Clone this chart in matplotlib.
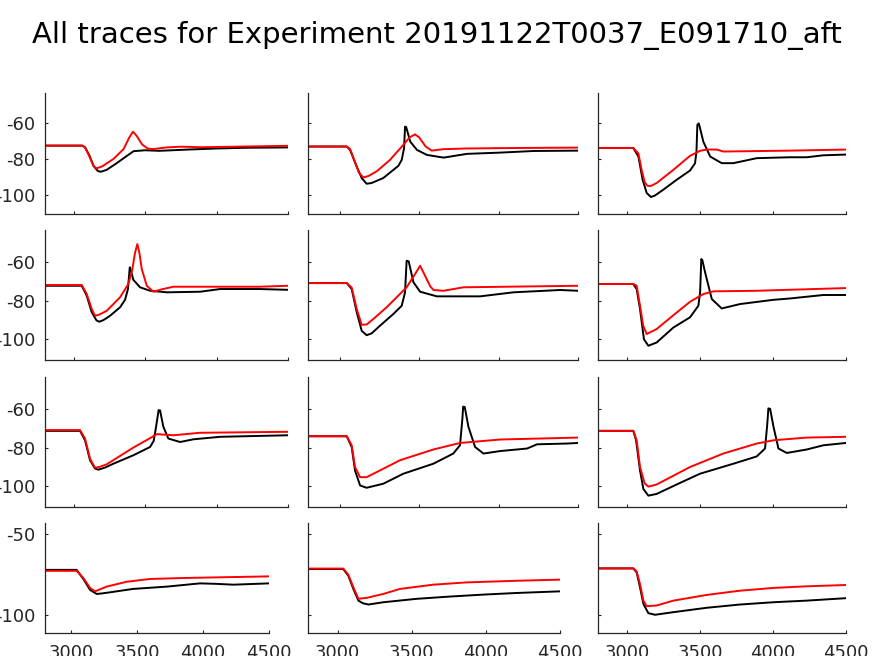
import matplotlib
matplotlib.use("Agg")
import matplotlib.pyplot as plt

plt.rcParams['font.family'] = ['DejaVu Sans']
plt.rcParams['axes.unicode_minus'] = False

title = "All traces for Experiment 20191122T0037_E091710_aft"

p11_black = [(2800, -72.6), (3060, -72.6), (3080, -73.5), (3110, -78), (3140, -84), (3170, -86.8), (3190, -87.2),
             (3230, -86.2), (3300, -82.5), (3370, -78.5), (3420, -75.7), (3500, -75.2), (3600, -75.5), (3800, -74.8),
             (4000, -74.2), (4200, -73.8), (4500, -73.6)]
p11_red = [(2800, -72.6), (3060, -72.6), (3080, -73.5), (3110, -78.5), (3140, -84), (3160, -85.3), (3200, -84.2),
           (3280, -80), (3350, -74.5), (3390, -68), (3415, -64.8), (3440, -67), (3480, -72), (3520, -74.3),
           (3560, -74.5), (3650, -73.6), (3750, -73.2), (3900, -73.5), (4500, -72.7)]

p12_black = [(2800, -73.1), (3044, -73.1), (3065, -75), (3107, -84.3), (3138, -90.7), (3169, -93.9), (3200, -93.5),
             (3274, -90.7), (3369, -83.9), (3390, -80.6), (3405, -74), (3411, -62), (3418, -62.2), (3444, -70.4),
             (3486, -75), (3549, -77.8), (3654, -79.3), (3801, -77.2), (4011, -76.5), (4221, -75.6), (4500, -75.4)]
p12_red = [(2800, -73.1), (3044, -73.1), (3065, -74.5), (3090, -80.6), (3121, -87.8), (3148, -90.4), (3180, -89.6),
           (3232, -87), (3316, -80.6), (3400, -72.2), (3440, -68), (3474, -66.3), (3500, -68), (3540, -73),
           (3579, -75.4), (3650, -74.6), (3800, -74.2), (4000, -74), (4500, -73.7)]

p13_black = [(2800, -73.9), (3042, -73.9), (3077, -78.7), (3106, -91.7), (3134, -99.1), (3163, -101.3),
             (3190, -100.5), (3248, -97.2), (3339, -91.7), (3431, -86.5), (3465, -82.5), (3475, -76), (3481, -61),
             (3490, -60.2), (3497, -62), (3522, -70.4), (3569, -78.7), (3648, -82.4), (3728, -82.4), (3888, -79.6),
             (4117, -79.1), (4231, -79.1), (4345, -78), (4500, -77.6)]
p13_red = [(2800, -73.9), (3042, -73.9), (3077, -77), (3099, -86.1), (3120, -93), (3138, -95), (3160, -95.2),
           (3202, -93.5), (3317, -86.1), (3431, -78.3), (3500, -75.5), (3545, -74.8), (3614, -74.8), (3660, -75.9),
           (4117, -75.4), (4500, -74.8)]

p21_black = [(2800, -72.2), (3057, -72.2), (3092, -77.4), (3127, -86), (3160, -90.2), (3180, -90.9), (3210, -90),
             (3255, -87.8), (3325, -83.4), (3360, -79.5), (3380, -74), (3393, -62.6), (3400, -64), (3418, -69.1),
             (3465, -73), (3535, -74.8), (3652, -75.6), (3885, -75.3), (4025, -73.9), (4300, -73.9), (4500, -74.3)]
p21_red = [(2800, -71.8), (3057, -71.8), (3092, -76.5), (3127, -84.3), (3150, -87.8), (3180, -87.2), (3232, -85.2),
           (3325, -78.2), (3383, -71.3), (3410, -64), (3430, -55), (3446, -50.5), (3460, -55), (3477, -63.5),
           (3512, -72.2), (3558, -75.3), (3620, -74), (3698, -72.7), (4305, -72.7), (4500, -72.2)]

p22_black = [(2800, -70.8), (3044, -70.8), (3075, -73.9), (3107, -86), (3138, -95.6), (3169, -97.9), (3200, -97),
             (3253, -93), (3337, -86.9), (3390, -82.6), (3411, -75.6), (3421, -59.2), (3434, -59.5), (3464, -70.4),
             (3506, -75.3), (3611, -77.7), (3884, -77.7), (4094, -75.6), (4388, -74.4), (4500, -74.8)]
p22_red = [(2800, -70.8), (3044, -70.8), (3075, -73.1), (3107, -84.3), (3138, -92.5), (3170, -92.3), (3211, -89.5),
           (3295, -83.4), (3421, -73), (3474, -66.1), (3506, -61.8), (3537, -67), (3570, -72.5), (3590, -74.4),
           (3653, -74.8), (3779, -73), (4500, -72.2)]

p23_black = [(2800, -71.3), (3042, -71.3), (3065, -73.9), (3088, -84.3), (3115, -100), (3145, -103.4),
             (3202, -101.7), (3317, -93.9), (3431, -88.6), (3488, -82.6), (3500, -75.6), (3508, -58.3),
             (3515, -58.8), (3534, -65.2), (3580, -79.1), (3648, -84), (3774, -81.7), (4003, -79.5), (4117, -78.8),
             (4345, -77), (4500, -77)]
p23_red = [(2800, -71.3), (3042, -71.3), (3065, -72.2), (3088, -82.6), (3110, -93), (3134, -97.3), (3202, -94.7),
           (3317, -87.5), (3431, -80.5), (3522, -76.5), (3591, -75.1), (3888, -74.8), (4500, -73.4)]

p31_black = [(2800, -71.2), (3045, -71.2), (3080, -76.1), (3115, -86.5), (3150, -90.8), (3173, -91.4),
             (3220, -90.3), (3278, -88.3), (3418, -83.9), (3535, -79.6), (3560, -76.5), (3575, -70), (3595, -60.4),
             (3605, -60.6), (3628, -69.1), (3663, -75.2), (3745, -77), (3838, -75.6), (4025, -74.3), (4500, -73.5)]
p31_red = [(2800, -70.8), (3045, -70.8), (3080, -75.2), (3115, -85.7), (3150, -90.4), (3180, -90), (3232, -88.6),
           (3418, -79.9), (3540, -74.8), (3582, -72.9), (3698, -73.5), (3885, -72.2), (4500, -71.7)]

p32_black = [(2800, -74), (3044, -74), (3075, -79.6), (3096, -91.8), (3128, -99.6), (3169, -100.8), (3274, -98.7),
             (3400, -93.5), (3589, -88.3), (3715, -83), (3757, -78.7), (3772, -65), (3777, -58.6), (3787, -58.8),
             (3810, -69.1), (3852, -79.6), (3905, -83), (4011, -81.7), (4179, -80.4), (4242, -78.2), (4431, -77.8),
             (4500, -77.5)]
p32_red = [(2800, -74), (3044, -74), (3075, -78.7), (3096, -90), (3128, -95.3), (3169, -95.3), (3379, -86.5),
           (3589, -80.9), (3757, -77.5), (4011, -75.7), (4500, -74.7)]

p33_black = [(2800, -71.2), (3042, -71.2), (3061, -76.1), (3088, -91.8), (3111, -101.4), (3145, -104.9),
             (3202, -104), (3339, -99.1), (3499, -93.5), (3728, -88.3), (3888, -84.5), (3945, -80.4), (3960, -68),
             (3968, -59.5), (3980, -59.8), (4003, -69.1), (4037, -80.4), (4094, -82.7), (4231, -80.9),
             (4345, -78.7), (4500, -77.5)]
p33_red = [(2800, -71.2), (3042, -71.2), (3065, -76.1), (3088, -90), (3120, -98.5), (3145, -100.2), (3202, -99.1),
           (3431, -90), (3659, -83), (3888, -77.8), (4003, -76.1), (4231, -74.7), (4500, -74.3)]

p41_black = [(2800, -72), (3040, -72), (3091, -77.6), (3142, -84.3), (3192, -86.8), (3230, -86.5), (3293, -85.8),
             (3470, -83.7), (3724, -82.3), (3977, -80.3), (4100, -80.6), (4230, -81.1), (4500, -80.3)]
p41_red = [(2800, -72.6), (3040, -72.6), (3091, -77), (3142, -83.1), (3180, -85.2), (3268, -82.3), (3420, -79.3),
           (3597, -77.6), (3850, -77), (4500, -76)]

p42_black = [(2800, -71.5), (3038, -71.5), (3072, -75.6), (3106, -83.7), (3140, -90.9), (3170, -92.5),
             (3207, -93.3), (3308, -91.9), (3533, -89.8), (3758, -88.4), (3983, -87.2), (4208, -86.2), (4500, -85.2)]
p42_red = [(2800, -71.2), (3038, -71.2), (3072, -75), (3106, -82.7), (3140, -89.8), (3196, -89.2), (3308, -86.8),
           (3421, -83.7), (3645, -81.1), (3870, -79.7), (4208, -78.7), (4500, -78)]

p43_black = [(2800, -71.1), (3042, -71.1), (3065, -73.6), (3088, -82.7), (3111, -92.9), (3145, -98.6),
             (3191, -99.6), (3317, -98), (3545, -95.3), (3773, -93.3), (4002, -91.9), (4231, -90.9), (4500, -89.4)]
p43_red = [(2800, -71.1), (3042, -71.1), (3065, -73), (3088, -80.7), (3111, -90.9), (3134, -94.3), (3202, -93.9),
           (3317, -90.9), (3545, -87.4), (3773, -84.8), (4002, -83.1), (4231, -82.1), (4500, -81.3)]

panels = [
    [(p11_black, p11_red), (p12_black, p12_red), (p13_black, p13_red)],
    [(p21_black, p21_red), (p22_black, p22_red), (p23_black, p23_red)],
    [(p31_black, p31_red), (p32_black, p32_red), (p33_black, p33_red)],
    [(p41_black, p41_red), (p42_black, p42_red), (p43_black, p43_red)],
]

x_ticks = [3000, 3500, 4000, 4500]
y_ticks_upper = [-100, -80, -60]
y_ticks_bottom = [-100, -50]

W, H = 874, 656
# axes boxes in pixels (x0, x1) per column and (y0, y1) per row
rows_px = [(93, 214), (230, 360), (377, 507), (523, 633)]
cols_px = [(45, 288), (308, 578), (598, 846)]
cols_px_bottom = [(45, 269), (308, 560), (598, 846)]

fig = plt.figure(figsize=(W / 100, H / 100), dpi=100)
ink = '#262626'

for r in range(4):
    for c in range(3):
        y0, y1 = rows_px[r]
        x0, x1 = (cols_px_bottom if r == 3 else cols_px)[c]
        ax = fig.add_axes([x0 / W, (H - y1) / H, (x1 - x0) / W, (y1 - y0) / H])
        black, red = panels[r][c]
        ax.plot([p[0] for p in black], [p[1] for p in black], color='black', lw=1.4)
        ax.plot([p[0] for p in red], [p[1] for p in red], color='#ff0000', lw=1.4)
        ax.set_xlim(2800, 4500)
        ax.set_ylim(-110.8, -43.2)
        ax.set_xticks(x_ticks)
        ax.set_yticks(y_ticks_bottom if r == 3 else y_ticks_upper)
        for s in ['top', 'right']:
            ax.spines[s].set_visible(False)
        for s in ['left', 'bottom']:
            ax.spines[s].set_color(ink)
            ax.spines[s].set_linewidth(0.9)
        ax.tick_params(direction='in', length=2.5, width=0.8, color=ink, labelcolor=ink, labelsize=13)
        ax.tick_params(axis='y', pad=7)
        ax.tick_params(axis='x', pad=8)
        if r != 3:
            ax.set_xticklabels([])
        if c != 0:
            ax.set_yticklabels([])

fig.text(0.5, 1 - 35 / H, title, ha='center', va='center', fontsize=21, color='black')

fig.savefig('out.png', dpi=100)
